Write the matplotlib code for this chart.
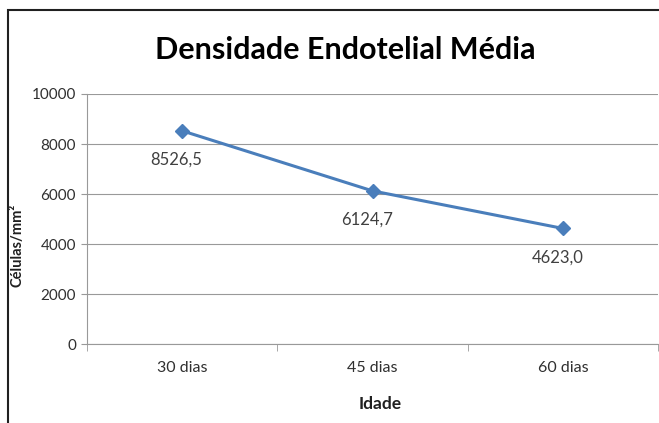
import matplotlib
matplotlib.use("Agg")
import matplotlib.pyplot as plt
from matplotlib.patches import Rectangle

# chart data
categories = ["30 dias", "45 dias", "60 dias"]
densidade = [8526.5, 6124.7, 4623.0]
labels = ["8526,5", "6124,7", "4623,0"]
yticks = [0, 2000, 4000, 6000, 8000, 10000]

plt.rcParams['font.family'] = ['Lato', 'DejaVu Sans']

W, H = 659, 423
fig = plt.figure(figsize=(W / 100, H / 100), dpi=100)
fig.patch.set_facecolor("white")

# plot area in pixels: left 87, right 658, top 94, bottom 344
ax = fig.add_axes([87 / W, 1 - 344 / H, (658 - 87) / W, (344 - 94) / H])

x = list(range(len(categories)))
ax.plot(x, densidade, color="#4A7EBB", lw=2.2, marker="D", ms=7,
        markerfacecolor="#4A7EBB", markeredgecolor="#4A7EBB", zorder=3)

for xi, yi, lab in zip(x, densidade, labels):
    ax.annotate(lab, (xi, yi), xytext=(-4, -21), textcoords="offset points",
                ha="center", va="center", fontsize=12, color="#404040")

ax.set_xlim(-0.5, len(categories) - 0.5)
ax.set_ylim(0, 10000)
ax.set_yticks(yticks)
ax.set_yticklabels([str(t) for t in yticks], fontsize=11, color="#303030")
ax.set_xticks(x)
ax.set_xticklabels(categories, fontsize=11.5, color="#303030")
ax.tick_params(axis="x", length=0, pad=12)
ax.set_xticks([i + 0.5 for i in range(-1, len(categories))], minor=True)
ax.tick_params(axis="x", which="minor", length=5, color="#999999")
ax.tick_params(axis="y", length=4, color="#999999", pad=4)

ax.grid(axis="y", color="#999999", lw=0.8)
ax.set_axisbelow(True)
for s in ["top", "right"]:
    ax.spines[s].set_visible(False)
for s in ["left", "bottom"]:
    ax.spines[s].set_color("#999999")
    ax.spines[s].set_linewidth(0.8)

fig.text(345 / W, 1 - 50 / H, "Densidade Endotelial Média", ha="center",
         va="center", fontsize=22, fontweight="bold", color="black")
fig.text(380 / W, 1 - 404 / H, "Idade", ha="center", va="center",
         fontsize=12.5, fontweight="bold", color="#202020")
fig.text(18 / W, 1 - 245 / H, "Células/mm²", ha="center", va="center",
         rotation=90, fontsize=10.5, fontweight="bold", color="#202020")

# outer chart border (only left and top visible in the crop)
fig.patches.append(Rectangle((8 / W, -0.1), 1.2, 1 - 10 / H + 0.1,
                             transform=fig.transFigure, fill=False,
                             edgecolor="#202020", lw=1.5))

fig.savefig("out.png", dpi=100, facecolor="white")
